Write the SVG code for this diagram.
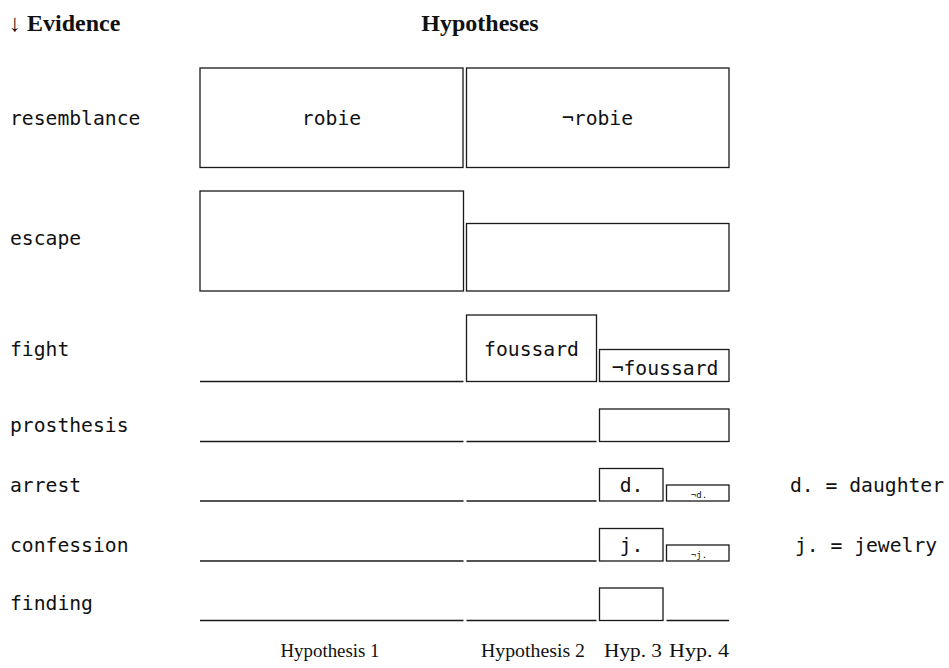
<svg xmlns="http://www.w3.org/2000/svg" width="949" height="668" viewBox="0 0 949 668">
<style>
.bg{fill:#ffffff}
.box{fill:#ffffff;stroke:#1a1a1a;stroke-width:1.3}
.ln{stroke:#1a1a1a;stroke-width:1.3;fill:none}
.mono{font-family:"DejaVu Sans Mono","Liberation Mono",monospace;font-size:19.7px;fill:#111}
.small{font-family:"DejaVu Sans Mono","Liberation Mono",monospace;font-size:9px;fill:#111}
.head{font-family:"Liberation Serif","DejaVu Serif",serif;font-size:24px;font-weight:bold;fill:#111}
.foot{font-family:"Liberation Serif","DejaVu Serif",serif;font-size:18px;fill:#111}
.c{text-anchor:middle}
</style>
<rect class="bg" x="0" y="0" width="949" height="668"/>
<g id="header">
<text class="head" x="9" y="31">↓ Evidence</text>
<text class="head c" x="480" y="31">Hypotheses</text>
</g>
<g id="evidence-labels">
<text class="mono" x="10" y="125">resemblance</text>
<text class="mono" x="10" y="245">escape</text>
<text class="mono" x="10" y="356">fight</text>
<text class="mono" x="10" y="432">prosthesis</text>
<text class="mono" x="10" y="492">arrest</text>
<text class="mono" x="10" y="552">confession</text>
<text class="mono" x="10" y="610">finding</text>
</g>
<g id="robie"><rect class="box" x="200" y="68" width="263" height="99.5"/><text class="mono c" x="331.5" y="125">robie</text></g>
<g id="not-robie"><rect class="box" x="466.5" y="68" width="262.5" height="99.5"/><text class="mono c" x="597.5" y="125">¬robie</text></g>
<g id="escape-h1"><rect class="box" x="200" y="191" width="263.5" height="100"/></g>
<g id="escape-h234"><rect class="box" x="466.5" y="223.5" width="262.5" height="67.5"/></g>
<g id="foussard"><rect class="box" x="466.5" y="315" width="130" height="66.5"/><text class="mono c" x="531.5" y="356">foussard</text></g>
<g id="not-foussard"><rect class="box" x="599.5" y="349.5" width="129.5" height="32"/><text class="mono c" x="665" y="375">¬foussard</text></g>
<g id="prosthesis-h34"><rect class="box" x="599.5" y="409" width="129.5" height="32.5"/></g>
<g id="daughter"><rect class="box" x="599.5" y="468.5" width="63.5" height="32.5"/><text class="mono c" x="631.5" y="492">d.</text></g>
<g id="not-daughter"><rect class="box" x="666.5" y="485" width="62.5" height="16"/><text class="small c" x="699" y="497.5">¬d.</text></g>
<g id="jewelry"><rect class="box" x="599.5" y="528.5" width="63.5" height="32.5"/><text class="mono c" x="631.5" y="552">j.</text></g>
<g id="not-jewelry"><rect class="box" x="666.5" y="545" width="62.5" height="16"/><text class="small c" x="699" y="557.5">¬j.</text></g>
<g id="finding-h3"><rect class="box" x="599.5" y="588" width="63.5" height="32.5"/></g>
<g id="empty-cells">
<line class="ln" x1="200" y1="381.5" x2="463.5" y2="381.5"/>
<line class="ln" x1="200" y1="441.5" x2="463.5" y2="441.5"/>
<line class="ln" x1="466.5" y1="441.5" x2="596.5" y2="441.5"/>
<line class="ln" x1="200" y1="501" x2="463.5" y2="501"/>
<line class="ln" x1="466.5" y1="501" x2="596.5" y2="501"/>
<line class="ln" x1="200" y1="561" x2="463.5" y2="561"/>
<line class="ln" x1="466.5" y1="561" x2="596.5" y2="561"/>
<line class="ln" x1="200" y1="620.5" x2="463.5" y2="620.5"/>
<line class="ln" x1="466.5" y1="620.5" x2="596.5" y2="620.5"/>
<line class="ln" x1="666.5" y1="620.5" x2="729" y2="620.5"/>
</g>
<g id="legend">
<text class="mono c" x="867" y="492">d. = daughter</text>
<text class="mono c" x="866" y="552">j. = jewelry</text>
</g>
<g id="footer">
<text class="foot c" x="330" y="657" textLength="99" lengthAdjust="spacingAndGlyphs">Hypothesis 1</text>
<text class="foot c" x="533" y="657" textLength="104" lengthAdjust="spacingAndGlyphs">Hypothesis 2</text>
<text class="foot c" x="633" y="657" textLength="58" lengthAdjust="spacingAndGlyphs">Hyp. 3</text>
<text class="foot c" x="699" y="657" textLength="60" lengthAdjust="spacingAndGlyphs">Hyp. 4</text>
</g>
</svg>
